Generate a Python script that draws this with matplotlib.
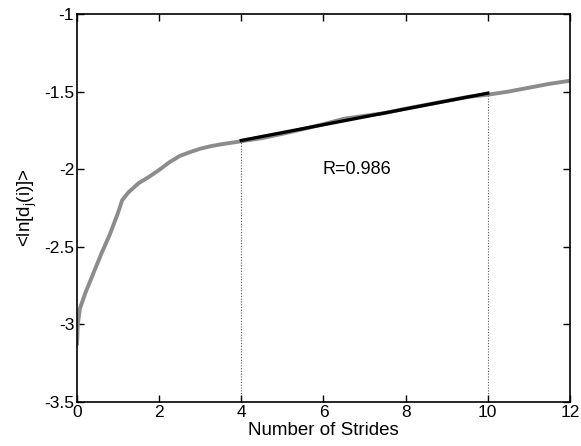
import matplotlib
matplotlib.use("Agg")
import matplotlib.pyplot as plt

plt.rcParams['font.family'] = ['Liberation Sans', 'DejaVu Sans']

strides = [0, 0.02, 0.07, 0.2, 0.4, 0.6, 0.8, 1.0, 1.1, 1.25, 1.5, 1.75, 2.0, 2.25, 2.5,
           2.75, 3.0, 3.25, 3.5, 3.75, 4.0, 4.5, 5.0, 5.5, 6.0, 6.5, 7.0, 7.5, 8.0, 8.5,
           9.0, 9.5, 10.0, 10.5, 11.0, 11.5, 12.0]
mean_ln_d = [-3.13, -3.0, -2.9, -2.8, -2.67, -2.54, -2.42, -2.28, -2.2, -2.15, -2.09,
             -2.05, -2.005, -1.955, -1.915, -1.89, -1.868, -1.852, -1.84, -1.83, -1.82,
             -1.80, -1.772, -1.742, -1.71, -1.675, -1.656, -1.638, -1.61, -1.585, -1.56,
             -1.535, -1.52, -1.5, -1.475, -1.45, -1.43]
fit_x = [4, 10]
fit_y = [-1.815, -1.51]
fit_label = "R=0.986"
xticks = [0, 2, 4, 6, 8, 10, 12]
yticks = [-3.5, -3, -2.5, -2, -1.5, -1]
yticklabels = ["-3.5", "-3", "-2.5", "-2", "-1.5", "-1"]

fig = plt.figure(figsize=(5.81, 4.46), dpi=100)
ax = fig.add_axes([0.1325, 0.0987, 0.8485, 0.8699])

ax.plot(strides, mean_ln_d, color='#8c8c8c', lw=2.8, solid_capstyle='round', zorder=2)
ax.plot(fit_x, fit_y, color='black', lw=2.4, zorder=3)
for xv, yv in zip(fit_x, fit_y):
    ax.plot([xv, xv], [-3.5, yv], color='#555555', lw=0.8, ls=(0, (1, 1.5)), zorder=1)

ax.text(5.98, -2.0, fit_label, fontsize=13, va='center', ha='left')

ax.set_xlim(0, 12)
ax.set_ylim(-3.5, -1)
ax.set_xticks(xticks)
ax.set_xticklabels([str(t) for t in xticks])
ax.set_yticks(yticks)
ax.set_yticklabels(yticklabels)
ax.tick_params(direction='in', top=True, right=True, labelsize=12.5, length=5, width=1, pad=2)
for s in ax.spines.values():
    s.set_linewidth(1.2)
ax.set_xlabel('Number of Strides', fontsize=13.5, labelpad=1.5)
ax.set_ylabel(r'<ln[d$_\mathregular{j}$(i)]>', fontsize=13.5, labelpad=4)

fig.savefig('out.png', dpi=100)
